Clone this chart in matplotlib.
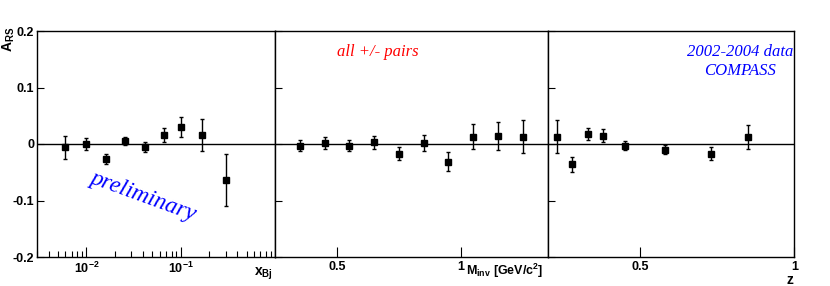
import matplotlib
matplotlib.use("Agg")
import matplotlib.pyplot as plt
import numpy as np
from matplotlib.ticker import FixedLocator, NullFormatter

# A_RS gegen x_Bj, M_inv und z
x_bj = [0.006, 0.010, 0.016, 0.026, 0.042, 0.066, 0.10, 0.17, 0.30]
a_xbj = [-0.006, 0.000, -0.027, 0.005, -0.005, 0.016, 0.030, 0.016, -0.063]
e_xbj = [0.020, 0.011, 0.009, 0.007, 0.009, 0.012, 0.017, 0.028, 0.046]

m_inv = [0.35, 0.45, 0.55, 0.65, 0.75, 0.85, 0.95, 1.05, 1.15, 1.25]
a_minv = [-0.003, 0.002, -0.003, 0.003, -0.017, 0.002, -0.031, 0.013, 0.014, 0.013]
e_minv = [0.010, 0.010, 0.010, 0.011, 0.011, 0.014, 0.017, 0.022, 0.025, 0.029]

z_vals = [0.23, 0.28, 0.33, 0.38, 0.45, 0.58, 0.73, 0.85]
a_z = [0.013, -0.036, 0.018, 0.015, -0.003, -0.010, -0.017, 0.012]
e_z = [0.029, 0.013, 0.011, 0.011, 0.008, 0.008, 0.012, 0.021]

y_ticks = [-0.2, -0.1, 0, 0.1, 0.2]
y_ticklabels = ["-0.2", "-0.1", "0", "0.1", "0.2"]

plt.rcParams['font.family'] = 'Liberation Sans'
plt.rcParams['font.weight'] = 'bold'
plt.rcParams['mathtext.fontset'] = 'custom'
plt.rcParams['mathtext.rm'] = 'Liberation Sans:bold'
plt.rcParams['mathtext.it'] = 'Liberation Sans:bold'
plt.rcParams['mathtext.bf'] = 'Liberation Sans:bold'

fig = plt.figure(figsize=(8.3, 2.86), dpi=100)
W, H = 830.0, 286.0
bottom = (H - 257) / H
height = (257 - 31) / H
ax1 = fig.add_axes([37 / W, bottom, (275 - 37) / W, height])
ax2 = fig.add_axes([275 / W, bottom, (547.5 - 275) / W, height])
ax3 = fig.add_axes([547.5 / W, bottom, (794.3 - 547.5) / W, height])

def style(ax):
    ax.set_ylim(-0.2, 0.2)
    ax.axhline(0, color='black', linewidth=1.0)
    for s in ax.spines.values():
        s.set_linewidth(1.0)
    ax.tick_params(direction='in', which='both', top=False, right=False,
                   labelsize=9, width=0.8)
    ax.tick_params(axis='y', which='major', length=5, pad=2)
    ax.tick_params(axis='x', which='major', length=7, pad=3)
    ax.tick_params(axis='x', which='minor', length=4)
    ax.set_yticks(y_ticks)

def punkte(ax, x, y, e):
    ax.errorbar(x, y, yerr=e, fmt='s', color='black', markersize=4.8,
                elinewidth=1.0, capsize=1.6, capthick=1.0)

# Panel 1: x_Bj
style(ax1)
ax1.set_xscale('log')
ax1.set_xlim(0.003, 1.0)
ax1.xaxis.set_major_locator(FixedLocator([0.01, 0.1]))
ax1.set_xticklabels([r'$\mathrm{10^{-2}}$', r'$\mathrm{10^{-1}}$'])
minor = [k * 10.0 ** d for d in (-3, -2, -1) for k in range(2, 10)]
ax1.xaxis.set_minor_locator(FixedLocator(minor))
ax1.xaxis.set_minor_formatter(NullFormatter())
ax1.set_yticklabels(y_ticklabels)
punkte(ax1, x_bj, a_xbj, e_xbj)
ax1.text(0.992, -0.04, r'$\mathrm{x_{Bj}}$', transform=ax1.transAxes,
         ha='right', va='top', fontsize=10)
ax1.text(0.445, 0.27, 'preliminary', transform=ax1.transAxes, rotation=-20,
         ha='center', va='center', color='blue', fontsize=17,
         family='Liberation Serif', style='italic', weight='normal')
fig.text(1 / W, (H - 27) / H, r'$\mathrm{A_{RS}}$', rotation=90,
         ha='left', va='top', fontsize=10)

# Panel 2: M_inv
style(ax2)
ax2.set_xlim(0.25, 1.35)
ax2.set_xticks([0.5, 1.0])
ax2.set_xticklabels(['0.5', '1'])
ax2.set_yticklabels([])
punkte(ax2, m_inv, a_minv, e_minv)
ax2.text(0.985, -0.022, r'M$_{\mathrm{inv}}$ [GeV/c$^{2}$]', transform=ax2.transAxes,
         ha='right', va='top', fontsize=9)
ax2.text(0.378, 0.905, 'all +/- pairs', transform=ax2.transAxes,
         ha='center', va='center', color='red', fontsize=12,
         family='Liberation Serif', style='italic', weight='normal')

# Panel 3: z
style(ax3)
ax3.set_xlim(0.2, 1.0)
ax3.set_xticks([0.5, 1.0])
ax3.set_xticklabels(['0.5', '1'])
ax3.set_yticklabels([])
punkte(ax3, z_vals, a_z, e_z)
ax3.text(0.995, -0.07, 'z', transform=ax3.transAxes,
         ha='right', va='top', fontsize=10)
ax3.text(0.78, 0.905, '2002-2004 data', transform=ax3.transAxes,
         ha='center', va='center', color='blue', fontsize=12,
         family='Liberation Serif', style='italic', weight='normal')
ax3.text(0.78, 0.822, 'COMPASS', transform=ax3.transAxes,
         ha='center', va='center', color='blue', fontsize=12,
         family='Liberation Serif', style='italic', weight='normal')

fig.savefig('out.png', dpi=100)
